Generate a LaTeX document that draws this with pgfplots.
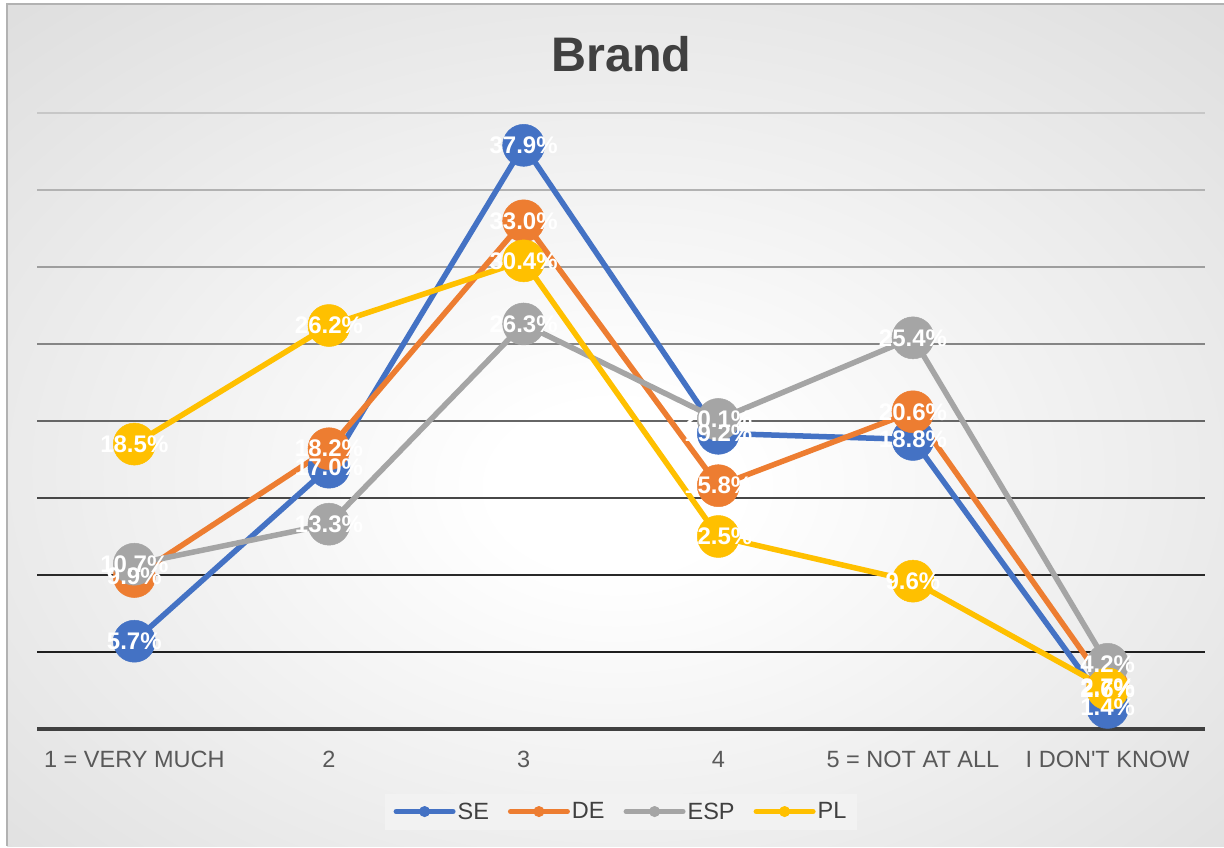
\documentclass[border=0pt]{standalone}
\usepackage{pgfplots}
\pgfplotsset{compat=1.18}
\usepackage{fontspec}
\setmainfont{Liberation Sans}
\definecolor{cSE}{HTML}{4472C4}
\definecolor{cDE}{HTML}{ED7D31}
\definecolor{cESP}{HTML}{A5A5A5}
\definecolor{cPL}{HTML}{FFC000}
\definecolor{txt}{HTML}{595959}
\pgfdeclareradialshading{bgshade}{\pgfpoint{0bp}{-4bp}}{color(0bp)=(white); color(5bp)=(white); color(72bp)=(black!27)}

\pgfplotstableread{
x y
0 5.7
1 17.0
2 37.9
3 19.2
4 18.8
5 1.4
}\dataSE
\pgfplotstableread{
x y
0 9.9
1 18.2
2 33.0
3 15.8
4 20.6
5 2.7
}\dataDE
\pgfplotstableread{
x y
0 10.7
1 13.3
2 26.3
3 20.1
4 25.4
5 4.2
}\dataESP
\pgfplotstableread{
x y
0 18.5
1 26.2
2 30.4
3 12.5
4 9.6
5 2.6
}\dataPL

\begin{document}
\begin{tikzpicture}
\useasboundingbox (0pt,0pt) rectangle (1224pt,847pt);
\shade[shading=bgshade] (7pt,1pt) rectangle (1224pt,843pt);
\draw[black!30, line width=1.2pt] (7pt,1pt) -- (7pt,843pt) -- (1224pt,843pt);
\node[font=\bfseries\fontsize{48.5}{52}\selectfont, text=black!75] at (621.5pt,793pt) {Brand};
\begin{axis}[
  at={(37pt,118pt)}, anchor=south west,
  scale only axis, width=1168pt, height=616pt,
  xmin=-0.5, xmax=5.5, ymin=0, ymax=40,
  clip=false,
  axis line style={draw=none},
  tick style={draw=none},
  ytick=\empty,
  xtick={0,1,2,3,4,5},
  xticklabels={1 = VERY MUCH, 2, 3, 4, 5 = NOT AT ALL, I DON\textquotesingle T KNOW},
  xticklabel style={font=\fontsize{23.5}{27}\selectfont, text=txt, yshift=-19pt},
  /pgf/number format/assume math mode=true,
  legend image code/.code={\draw[mark repeat=2,mark phase=2,#1] plot coordinates {(0pt,0pt) (28.5pt,0pt) (57pt,0pt)};},
  legend style={at={(0.5,-0.134)}, anchor=center, legend columns=4,
    fill=black!5, draw=none, font=\fontsize{23.5}{27}\selectfont, text=black!75,
    inner xsep=9pt, inner ysep=7pt,
    /tikz/every even column/.append style={column sep=17pt}},
  every axis plot/.append style={line width=5.5pt, line join=round},
  lbl/.style={draw=none, mark=none, forget plot, nodes near coords={\pgfmathprintnumber[fixed,fixed zerofill,precision=1,assume math mode=true]{\pgfplotspointmeta}\%},
    every node near coord/.style={anchor=center, text=white, font=\bfseries\fontsize{24}{26}\selectfont}},
]
\draw[black!22, line width=2pt] (axis cs:-0.5,40) -- (axis cs:5.5,40);
\draw[black!30, line width=2pt] (axis cs:-0.5,35) -- (axis cs:5.5,35);
\draw[black!38, line width=2pt] (axis cs:-0.5,30) -- (axis cs:5.5,30);
\draw[black!48, line width=2pt] (axis cs:-0.5,25) -- (axis cs:5.5,25);
\draw[black!60, line width=2pt] (axis cs:-0.5,20) -- (axis cs:5.5,20);
\draw[black!72, line width=2pt] (axis cs:-0.5,15) -- (axis cs:5.5,15);
\draw[black!84, line width=2pt] (axis cs:-0.5,10) -- (axis cs:5.5,10);
\draw[black!88, line width=2pt] (axis cs:-0.5,5) -- (axis cs:5.5,5);
\draw[black!75, line width=3.5pt] (axis cs:-0.5,0) -- (axis cs:5.5,0);

\addlegendimage{cSE, line width=5pt, line cap=round, mark=*, mark size=5pt, mark options={line width=1pt}}
\addlegendentry{SE}
\addlegendimage{cDE, line width=5pt, line cap=round, mark=*, mark size=5pt, mark options={line width=1pt}}
\addlegendentry{DE}
\addlegendimage{cESP, line width=5pt, line cap=round, mark=*, mark size=5pt, mark options={line width=1pt}}
\addlegendentry{ESP}
\addlegendimage{cPL, line width=5pt, line cap=round, mark=*, mark size=5pt, mark options={line width=1pt}}
\addlegendentry{PL}

\addplot[cSE, forget plot, mark=*, mark size=21pt, mark options={line width=0.5pt}] table[x=x,y=y] {\dataSE};
\addplot[cDE, forget plot, mark=*, mark size=21pt, mark options={line width=0.5pt}] table[x=x,y=y] {\dataDE};
\addplot[cESP, forget plot, mark=*, mark size=21pt, mark options={line width=0.5pt}] table[x=x,y=y] {\dataESP};
\addplot[cPL, forget plot, mark=*, mark size=21pt, mark options={line width=0.5pt}] table[x=x,y=y] {\dataPL};

\addplot[lbl] table[x=x,y=y] {\dataSE};
\addplot[lbl] table[x=x,y=y] {\dataDE};
\addplot[lbl] table[x=x,y=y] {\dataESP};
\addplot[lbl] table[x=x,y=y] {\dataPL};
\end{axis}
\end{tikzpicture}
\end{document}
